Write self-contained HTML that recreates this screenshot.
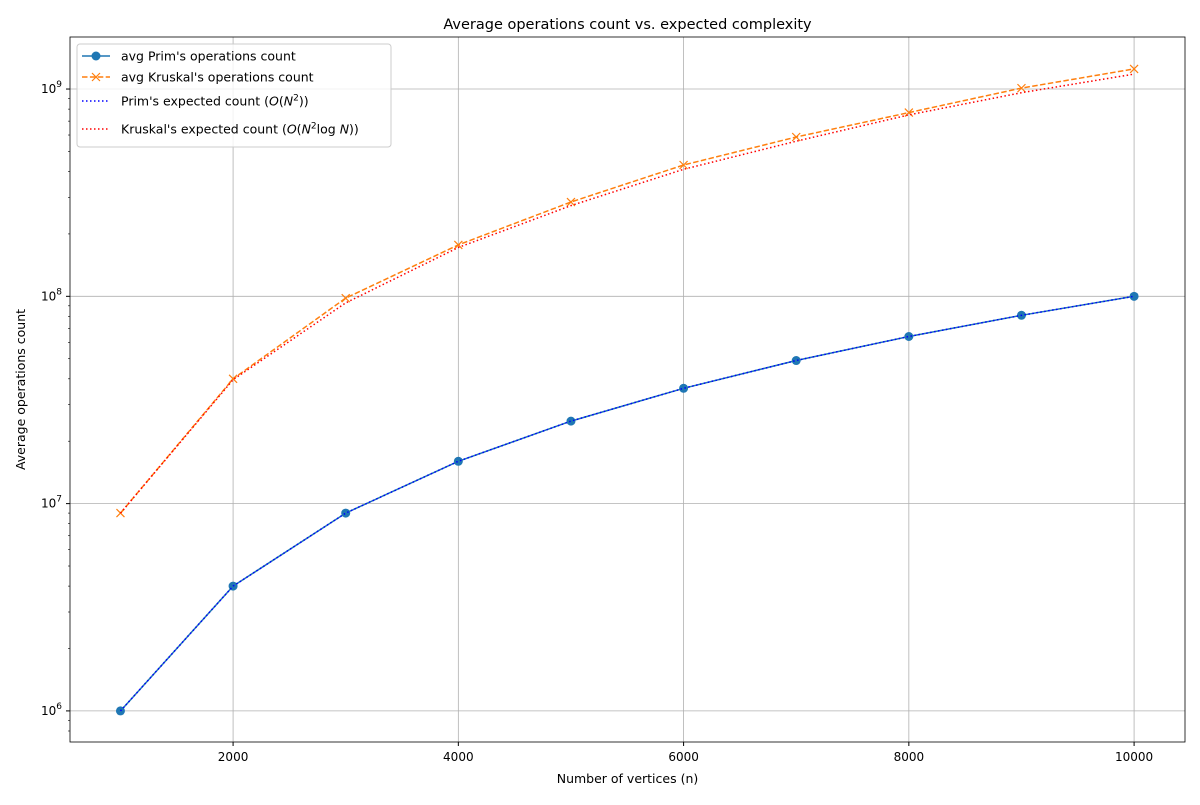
<!DOCTYPE html>
<html><head><meta charset="utf-8"><style>
body{margin:0;background:#fff;font-family:"Liberation Sans","DejaVu Sans",sans-serif}
</style></head><body>
<svg id="c" width="1200" height="800" xmlns="http://www.w3.org/2000/svg" font-family="'DejaVu Sans','Liberation Sans',sans-serif"></svg>
<script>
const nValues=[1000,2000,3000,4000,5000,6000,7000,8000,9000,10000];
const primAvg=[1e6,4e6,9e6,1.6e7,2.5e7,3.6e7,4.9e7,6.4e7,8.1e7,1e8];
const kruskalAvg=[9e6,4.0e7,9.8e7,1.77e8,2.85e8,4.3e8,5.87e8,7.7e8,1.01e9,1.25e9];
const primExpected=[1e6,4e6,9e6,1.6e7,2.5e7,3.6e7,4.9e7,6.4e7,8.1e7,1e8];
const kruskalExpected=[9e6,3.96e7,9.3e7,1.72e8,2.74e8,4.1e8,5.6e8,7.5e8,9.6e8,1.18e9];
const xTicks=[2000,4000,6000,8000,10000];
const yTicks=[6,7,8,9];

const L=70,R=1185,T=37,B=742;
const xMin=552,xMax=10452,yMinL=5.850,yMaxL=9.251;
const X=v=>L+(v-xMin)/(xMax-xMin)*(R-L);
const Y=v=>B-(Math.log10(v)-yMinL)/(yMaxL-yMinL)*(B-T);
const svg=document.getElementById('c');
const NS='http://www.w3.org/2000/svg';
function mk(tag,attrs,parent){const e=document.createElementNS(NS,tag);for(const k in attrs)e.setAttribute(k,attrs[k]);(parent||svg).appendChild(e);return e;}

// grid
xTicks.forEach(t=>{
 const g=mk('line',{x1:X(t),x2:X(t),y1:T,y2:B,stroke:'#b0b0b0','stroke-width':0.8});
 
 
 mk('line',{x1:X(t),x2:X(t),y1:B,y2:B+4,stroke:'#000'});
 const tx=mk('text',{x:X(t),y:B+19,'font-size':12,'text-anchor':'middle'});
 tx.textContent=t;
 
 
});
yTicks.forEach(t=>{
 const y=Y(Math.pow(10,t));
 const g=mk('line',{x1:L,x2:R,y1:y,y2:y,stroke:'#b0b0b0','stroke-width':0.8});
 
 
 mk('line',{x1:L-4,x2:L,y1:y,y2:y,stroke:'#000'});
 const tx=mk('text',{x:L-8,y:y+4,'font-size':12,'text-anchor':'end'});
 tx.innerHTML='10<tspan dy="-6" font-size="9">'+t+'</tspan>';
 
 
});
// minor y ticks
for(let d=5;d<=9;d++)for(let m=2;m<=9;m++){const v=m*Math.pow(10,d);const lv=Math.log10(v);if(lv>yMinL&&lv<yMaxL){const y=Y(v);mk('line',{x1:L-2,x2:L,y1:y,y2:y,stroke:'#000','stroke-width':0.6});}}

function path(vals,attrs,name){
 const d=vals.map((v,i)=>(i?'L':'M')+X(nValues[i]).toFixed(1)+','+Y(v).toFixed(1)).join(' ');
 const p=mk('path',Object.assign({d:d,fill:'none'},attrs));
 
 
 return p;
}
path(kruskalAvg,{stroke:'#ff7f0e','stroke-width':1.5,'stroke-dasharray':'5.5,2.4'},'kruskal-avg-line');
kruskalAvg.forEach((v,i)=>{const x=X(nValues[i]),y=Y(v);
 const m=mk('path',{d:`M${x-4},${y-4}L${x+4},${y+4}M${x-4},${y+4}L${x+4},${y-4}`,stroke:'#ff7f0e','stroke-width':1.2});
 
 });
path(primAvg,{stroke:'#1f77b4','stroke-width':1.5},'prim-avg-line');
primAvg.forEach((v,i)=>{
 const c=mk('circle',{cx:X(nValues[i]),cy:Y(v),r:4.5,fill:'#1f77b4'});
 
 });
path(primExpected,{stroke:'#0000ff','stroke-width':1.5,'stroke-dasharray':'1.5,2.5'},'prim-expected-line');
path(kruskalExpected,{stroke:'#ff0000','stroke-width':1.5,'stroke-dasharray':'1.5,2.5'},'kruskal-expected-line');

// frame
mk('rect',{x:L,y:T,width:R-L,height:B-T,fill:'none',stroke:'#000','stroke-width':0.8});

// titles
let t=mk('text',{x:(L+R)/2,y:29,'font-size':14.5,'text-anchor':'middle'});t.textContent='Average operations count vs. expected complexity';

t=mk('text',{x:(L+R)/2,y:783,'font-size':12.5,'text-anchor':'middle'});t.textContent='Number of vertices (n)';

t=mk('text',{x:25,y:(T+B)/2,'font-size':12.5,'text-anchor':'middle',transform:`rotate(-90 25 ${(T+B)/2})`});t.textContent='Average operations count';


// legend
const lg=mk('g',{});

mk('rect',{x:77,y:44,width:314,height:103,rx:3,fill:'#fff','fill-opacity':0.8,stroke:'#ccc'},lg);
const entries=[
 {y:56,stroke:'#1f77b4',dash:'',mk:'o',label:"avg Prim's operations count"},
 {y:77,stroke:'#ff7f0e',dash:'5.5,2.4',mk:'x',label:"avg Kruskal's operations count"},
 {y:101,stroke:'#0000ff',dash:'1.5,2.5',mk:'',label:"Prim's expected count (<tspan font-style='italic'>O</tspan>(<tspan font-style='italic'>N</tspan><tspan dy='-5' font-size='9'>2</tspan><tspan dy='5'>))</tspan>"},
 {y:129,stroke:'#ff0000',dash:'1.5,2.5',mk:'',label:"Kruskal's expected count (<tspan font-style='italic'>O</tspan>(<tspan font-style='italic'>N</tspan><tspan dy='-5' font-size='9'>2</tspan><tspan dy='5'>log </tspan><tspan font-style='italic'>N</tspan>))"}
];
entries.forEach(e=>{
 const g=mk('g',{},lg);
 
 mk('line',{x1:82,x2:110,y1:e.y,y2:e.y,stroke:e.stroke,'stroke-width':1.5,'stroke-dasharray':e.dash||'none'},g);
 if(e.mk==='o')mk('circle',{cx:96,cy:e.y,r:4.5,fill:e.stroke},g);
 if(e.mk==='x')mk('path',{d:`M92,${e.y-4}L100,${e.y+4}M92,${e.y+4}L100,${e.y-4}`,stroke:e.stroke,'stroke-width':1.2},g);
 const tx=mk('text',{x:121,y:e.y+4.5,'font-size':12.5},g);tx.innerHTML=e.label;
});
</script>
</body></html>
